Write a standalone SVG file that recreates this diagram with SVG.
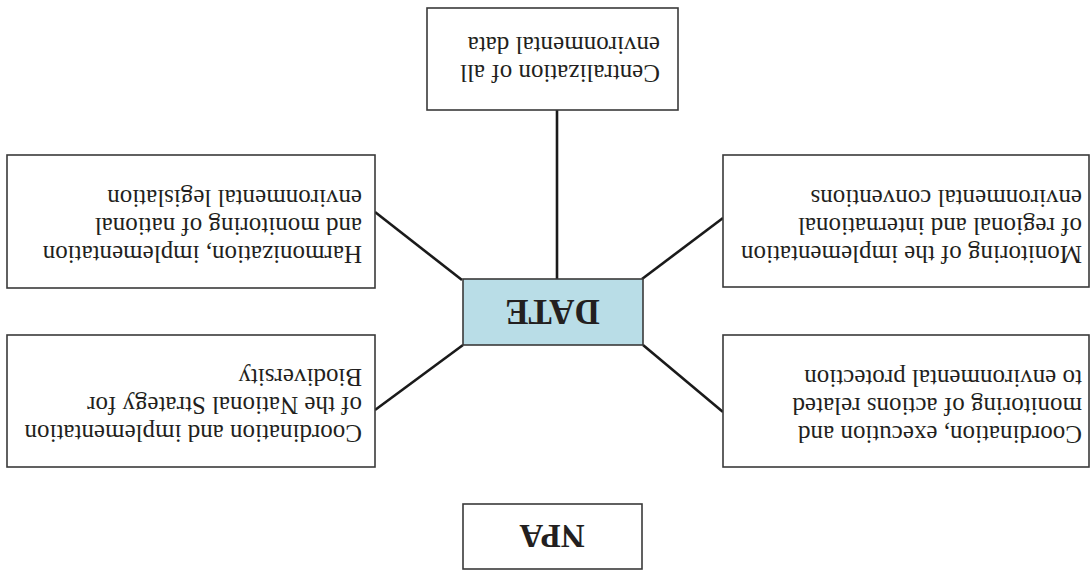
<svg xmlns="http://www.w3.org/2000/svg" width="1090" height="572" viewBox="0 0 1090 572">
<style>
.box{fill:#ffffff;stroke:#3a3a3a;stroke-width:1.6}
.hub{fill:#b9dde7;stroke:#3a3a3a;stroke-width:1.6}
.t{font-family:"Liberation Serif","Times New Roman",serif;font-size:25px;fill:#231f20}
.b{font-family:"Liberation Serif","Times New Roman",serif;font-size:33px;font-weight:bold;fill:#231f20;text-anchor:middle}
.c{stroke:#1a1a1a;stroke-width:2.6;fill:none}
</style>
<rect width="1090" height="572" fill="#ffffff"/>
<g transform="rotate(180 545 286)">
<g id="connectors">
<line class="c" x1="533" y1="462" x2="533" y2="293"/>
<line class="c" x1="715" y1="360" x2="628" y2="292"/>
<line class="c" x1="448" y1="293" x2="367" y2="354"/>
<line class="c" x1="627" y1="227" x2="715" y2="162"/>
<line class="c" x1="447" y1="227" x2="367" y2="160"/>
</g>
<g id="date">
<rect class="hub" x="447" y="227" width="180" height="66"/>
<text class="b" x="537.5" y="272" style="font-size:35px">DATE</text>
</g>
<g id="npa">
<rect class="box" x="448" y="3" width="179" height="65"/>
<text class="b" x="538" y="47">NPA</text>
</g>
<g id="centralization">
<rect class="box" x="412" y="462" width="251" height="102"/>
<text class="t" x="430" y="507">Centralization of all</text>
<text class="t" x="430" y="535">environmental data</text>
</g>
<g id="harmonization">
<rect class="box" x="715" y="284" width="368" height="133"/>
<text class="t" x="728" y="326">Harmonization, implementation</text>
<text class="t" x="728" y="354">and monitoring of national</text>
<text class="t" x="728" y="382">environmental legislation</text>
</g>
<g id="monitoring">
<rect class="box" x="1" y="285" width="366" height="132"/>
<text class="t" x="8" y="326">Monitoring of the implementation</text>
<text class="t" x="8" y="354">of regional and international</text>
<text class="t" x="8" y="382">environmental conventions</text>
</g>
<g id="biodiversity">
<rect class="box" x="715" y="105" width="368" height="132"/>
<text class="t" x="728" y="147">Coordination and implementation</text>
<text class="t" x="728" y="175">of the National Strategy for</text>
<text class="t" x="728" y="203">Biodiversity</text>
</g>
<g id="protection">
<rect class="box" x="1" y="105" width="366" height="132"/>
<text class="t" x="8" y="146">Coordination, execution and</text>
<text class="t" x="8" y="174">monitoring of actions related</text>
<text class="t" x="8" y="202">to environmental protection</text>
</g>
</g>
</svg>
